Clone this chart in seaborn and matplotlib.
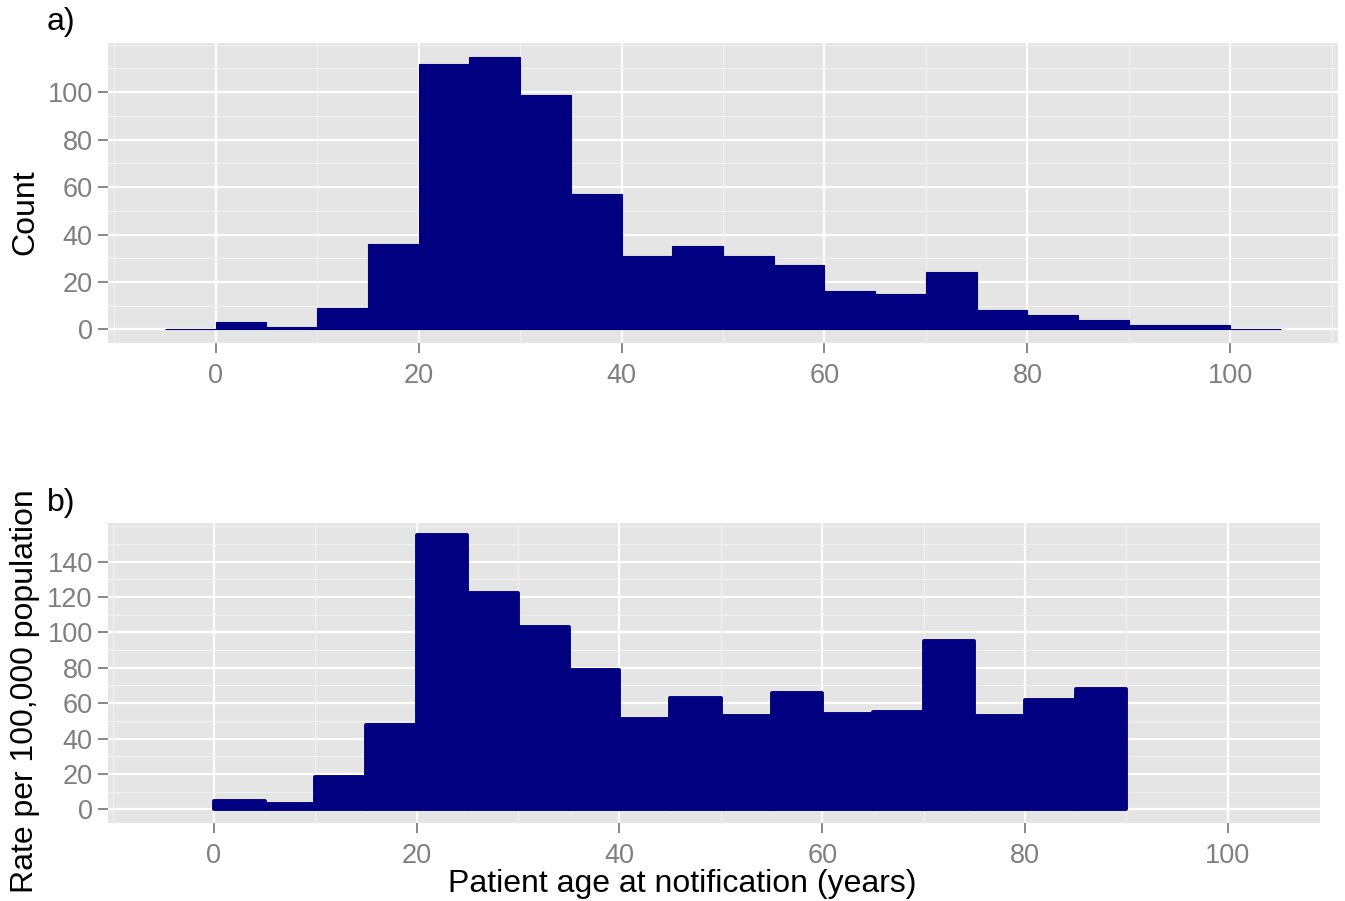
import matplotlib
matplotlib.use("Agg")
import numpy as np
import matplotlib.pyplot as plt
from matplotlib.ticker import MultipleLocator
import seaborn as sns

# 5-year age groups, panel a) notified cases
count_edges = list(range(-5, 110, 5))
counts = [0, 3, 1, 9, 36, 112, 115, 99, 57, 31, 35, 31, 27, 16, 15, 24, 8, 6, 4, 2, 2, 0]

# panel b) rate per 100,000 population
rate_edges = list(range(0, 95, 5))
rates = [4.7, 2.8, 18.3, 47.5, 155, 122, 103, 79, 51, 63, 53, 66, 54, 55, 95, 53, 62, 68]

NAVY = "#000080"
GREY = "#7F7F7F"

sns.set_theme(style="darkgrid", rc={
    "axes.facecolor": "#E5E5E5",
    "grid.color": "white",
    "grid.linewidth": 1.6,
    "xtick.bottom": True,
    "ytick.left": True,
    "xtick.major.size": 7.5,
    "ytick.major.size": 7.5,
    "xtick.major.width": 1.3,
    "ytick.major.width": 1.3,
    "xtick.color": GREY,
    "ytick.color": GREY,
    "xtick.labelcolor": GREY,
    "ytick.labelcolor": GREY,
    "text.color": "black",
})
plt.rcParams["font.family"] = ["Liberation Sans", "DejaVu Sans"]

fig = plt.figure(figsize=(13.45, 9.01), dpi=100)
W, H = 1345, 901
ax1 = fig.add_axes([108 / W, 1 - 343 / H, 1230 / W, 300 / H])
ax2 = fig.add_axes([108 / W, 1 - 823 / H, 1212 / W, 300 / H])

# --- a) counts ---
mids_a = np.array(count_edges[:-1]) + 2.5
sns.histplot(x=mids_a, weights=counts, bins=count_edges, ax=ax1,
             color=NAVY, alpha=1, edgecolor=NAVY, linewidth=0.8)

# --- b) rates ---
mids_b = np.array(rate_edges[:-1]) + 2.5
sns.histplot(x=mids_b, weights=rates, bins=rate_edges, ax=ax2,
             color=NAVY, alpha=1, edgecolor=NAVY, linewidth=2.8)
for p in ax2.patches:
    p.set_joinstyle("round")

ax1.set_xlim(-10.6, 110.6)
ax1.set_ylim(-5.75, 120.75)
ax2.set_xlim(-10.45, 109.1)
ax2.set_ylim(-7.7, 161.8)

for ax in (ax1, ax2):
    ax.set_xlabel("")
    ax.set_ylabel("")
    ax.xaxis.set_major_locator(MultipleLocator(20))
    ax.xaxis.set_minor_locator(MultipleLocator(10))
    ax.yaxis.set_major_locator(MultipleLocator(20))
    ax.yaxis.set_minor_locator(MultipleLocator(10))
    ax.grid(which="major", color="white", linewidth=1.6)
    ax.grid(which="minor", color="#F2F2F2", linewidth=0.7)
    ax.set_axisbelow(True)
    ax.tick_params(which="minor", length=0)
    ax.tick_params(axis="x", which="major", labelsize=19.5, pad=7)
    ax.tick_params(axis="y", which="major", labelsize=19.5, pad=3.5)
    for s in ax.spines.values():
        s.set_visible(False)

ax1.set_yticks([0, 20, 40, 60, 80, 100])
ax2.set_yticks([0, 20, 40, 60, 80, 100, 120, 140])
ax1.set_xticks([0, 20, 40, 60, 80, 100])
ax2.set_xticks([0, 20, 40, 60, 80, 100])

fig.text(47 / W, 1 - 22 / H, "a)", fontsize=23, va="center", ha="left")
fig.text(47 / W, 1 - 503 / H, "b)", fontsize=23, va="center", ha="left")
fig.text(25 / W, 1 - 212 / H, "Count", fontsize=23, rotation=90, va="center", ha="center")
fig.text(25 / W, 1 - 691 / H, "Rate per 100,000 population", fontsize=23,
         rotation=90, va="center", ha="center")
fig.text(682 / W, 1 - 884 / H, "Patient age at notification (years)", fontsize=23,
         va="center", ha="center")

fig.savefig("out.png", dpi=100)
